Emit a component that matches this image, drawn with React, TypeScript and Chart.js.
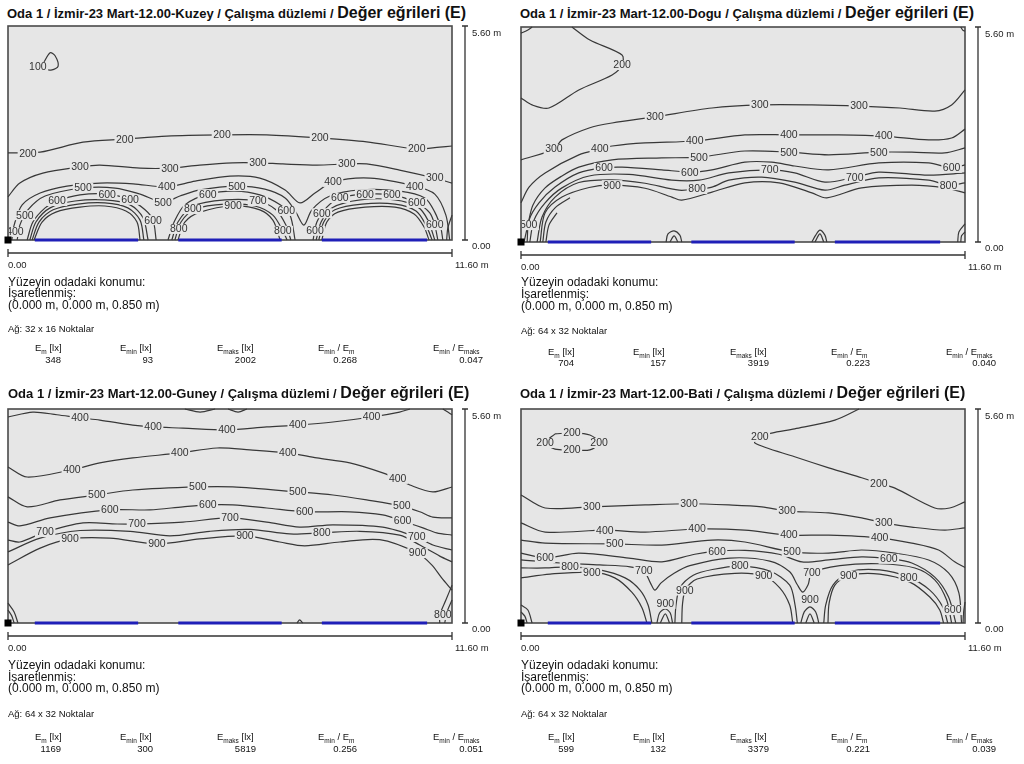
import React, { useEffect, useRef } from "react";
import { Chart, registerables } from "chart.js";

Chart.register(...registerables);

type Pt = [number, number];
type Lbl = [number, number, number];

// ---------------- data ----------------
const roomWidth = 11.6;
const roomDepth = 5.6;
const xTickLabels = ["0.00", "11.60 m"];
const yTickLabels = ["0.00", "5.60 m"];
const windowStarts = [0.7, 4.45, 8.2];
const windowEnds = [3.4, 7.15, 10.95];

const directions = ["Kuzey", "Dogu", "Guney", "Bati"];
const gridSizes = ["32 x 16", "64 x 32", "64 x 32", "64 x 32"];
const emValues = ["348", "704", "1169", "599"];
const eminValues = ["93", "157", "300", "132"];
const emaxValues = ["2002", "3919", "5819", "3379"];
const ratioMinMean = ["0.268", "0.223", "0.256", "0.221"];
const ratioMinMax = ["0.047", "0.040", "0.051", "0.039"];

// ---- Kuzey ----
const kuzey100: Pt[] = [[0.9, 4.58], [1.1, 4.9], [1.23, 4.82], [1.31, 4.55], [1.15, 4.45], [0.95, 4.48], [0.9, 4.58]];
const kuzey200: Pt[] = [[0, 2.28], [0.84, 2.3], [1.96, 2.56], [3.05, 2.64], [4.15, 2.72], [5.59, 2.75], [6.76, 2.75], [8.15, 2.67], [9.37, 2.57], [10.68, 2.38], [11.28, 2.43], [11.6, 2.46]];
const kuzey300: Pt[] = [[0, 1.13], [0.31, 1.49], [0.91, 1.75], [1.88, 1.91], [2.4, 1.96], [3.45, 1.88], [4.23, 1.88], [5.01, 1.96], [5.87, 2.02], [6.53, 2.02], [7.18, 1.99], [8.07, 1.96], [8.85, 1.99], [9.37, 1.99], [10.23, 1.83], [11.15, 1.62], [11.6, 1.49]];
const kuzey400: Pt[] = [[0.1, 0], [0.16, 0.39], [0.37, 0.92], [0.84, 1.23], [1.54, 1.41], [2.4, 1.49], [3.27, 1.47], [4.15, 1.39], [4.89, 1.54], [5.8, 1.67], [6.58, 1.62], [7.24, 1.31], [7.63, 0.97], [8.02, 1.23], [8.49, 1.52], [9.46, 1.62], [10.63, 1.41], [11.15, 1.2], [11.44, 0.65], [11.54, 0]];
const kuzey500: Pt[] = [[0.24, 0], [0.31, 0.39], [0.52, 0.79], [0.97, 1.15], [1.96, 1.36], [2.8, 1.36], [3.45, 1.2], [4.05, 0.99], [4.49, 1.15], [5.02, 1.31], [5.98, 1.41], [6.71, 1.33], [7.24, 1.1], [7.52, 0.73], [7.73, 0.39], [7.94, 0.79], [8.41, 1.15], [9.2, 1.31], [10.24, 1.28], [10.89, 1.1], [11.15, 0.73], [11.31, 0.31], [11.36, 0]];
const kuzeyW1a: Pt[] = [[0.5, 0], [0.65, 0.47], [0.97, 0.84], [1.28, 1.02], [1.88, 1.18], [2.59, 1.2], [3.19, 1.05], [3.58, 0.79], [3.79, 0.52], [3.87, 0]];
const kuzeyW1b: Pt[] = [[0.57, 0], [0.73, 0.47], [1.1, 0.84], [1.75, 1.02], [2.53, 1.05], [3.19, 0.92], [3.53, 0.58], [3.66, 0]];
const kuzeyW1c: Pt[] = [[0.63, 0], [0.81, 0.47], [1.18, 0.79], [1.83, 0.94], [2.53, 0.97], [3.13, 0.84], [3.45, 0.52], [3.55, 0]];
const kuzeyW1d: Pt[] = [[0.68, 0], [0.89, 0.47], [1.25, 0.73], [1.88, 0.86], [2.53, 0.89], [3.08, 0.76], [3.37, 0.47], [3.45, 0]];
const kuzeyW2a: Pt[] = [[4.18, 0], [4.34, 0.47], [4.62, 0.92], [5.22, 1.2], [5.93, 1.28], [6.58, 1.18], [7.11, 0.92], [7.37, 0.65], [7.5, 0]];
const kuzeyW2b: Pt[] = [[4.28, 0], [4.44, 0.47], [4.83, 0.89], [5.67, 1.05], [6.53, 1.02], [7.0, 0.79], [7.26, 0.39], [7.39, 0]];
const kuzeyW2c: Pt[] = [[4.36, 0], [4.52, 0.47], [4.89, 0.81], [5.67, 0.94], [6.45, 0.89], [6.92, 0.65], [7.18, 0.24], [7.29, 0]];
const kuzeyW2d: Pt[] = [[4.44, 0], [4.62, 0.47], [5.02, 0.73], [5.88, 0.89], [6.58, 0.79], [6.92, 0.52], [7.11, 0]];
const kuzeyW3a: Pt[] = [[7.97, 0], [8.07, 0.47], [8.33, 0.86], [8.67, 1.1], [9.33, 1.2], [10.03, 1.18], [10.68, 0.97], [11.02, 0.71], [11.15, 0.39], [11.23, 0]];
const kuzeyW3b: Pt[] = [[8.05, 0], [8.18, 0.47], [8.46, 0.84], [9.2, 1.05], [10.11, 1.05], [10.71, 0.86], [10.97, 0.52], [11.15, 0]];
const kuzeyW3c: Pt[] = [[8.12, 0], [8.25, 0.47], [8.54, 0.79], [9.25, 0.94], [10.11, 0.94], [10.66, 0.76], [10.92, 0.39], [11.08, 0]];
const kuzeyW3d: Pt[] = [[8.2, 0], [8.33, 0.47], [8.62, 0.73], [9.33, 0.86], [10.11, 0.86], [10.61, 0.68], [10.87, 0.34], [11.0, 0]];
const kuzeyWallR: Pt[] = [[11.6, 0.65], [11.49, 0.31], [11.46, 0]];
const kuzeyLabels: Lbl[] = [
  [0.78, 4.53, 100],
  [0.52, 2.27, 200], [3.05, 2.64, 200], [5.59, 2.75, 200], [8.15, 2.67, 200], [10.68, 2.38, 200],
  [1.88, 1.91, 300], [4.23, 1.88, 300], [6.53, 2.02, 300], [8.85, 1.99, 300], [11.15, 1.62, 300],
  [0.18, 0.21, 400], [4.15, 1.39, 400], [8.49, 1.52, 400], [10.63, 1.41, 400],
  [0.44, 0.65, 500], [1.96, 1.36, 500], [4.05, 0.99, 500], [5.98, 1.41, 500],
  [1.28, 1.02, 600], [2.59, 1.2, 600], [3.19, 1.05, 600], [3.79, 0.52, 600], [5.22, 1.2, 600], [7.27, 0.76, 600],
  [8.2, 0.7, 600], [8.02, 0.24, 600], [8.67, 1.1, 600], [9.33, 1.2, 600], [10.03, 1.18, 600], [10.68, 0.97, 600], [11.15, 0.39, 600],
  [6.53, 1.02, 700],
  [4.83, 0.81, 800], [4.46, 0.29, 800], [7.18, 0.24, 800],
  [5.88, 0.89, 900],
];

// ---- Dogu ----
const dogu200: Pt[] = [[1.33, 5.6], [1.8, 5.26], [2.64, 4.87], [2.64, 4.61], [2.38, 4.35], [1.51, 3.96], [0.73, 3.49], [0.29, 3.57], [0, 3.75]];
const dogu200tl: Pt[] = [[0, 5.44], [0.18, 5.52], [0.29, 5.6]];
const dogu200tr: Pt[] = [[11.49, 5.6], [11.54, 5.52], [11.6, 5.49]];
const dogu300: Pt[] = [[0, 2.14], [0.86, 2.42], [1.07, 2.66], [1.78, 2.97], [2.38, 3.1], [3.5, 3.26], [4.99, 3.49], [6.24, 3.57], [7.6, 3.57], [8.83, 3.54], [9.9, 3.49], [10.81, 3.41], [11.25, 3.57], [11.6, 3.96]];
const dogu400: Pt[] = [[0, 1.02], [0.21, 1.43], [0.63, 1.8], [1.51, 2.27], [2.06, 2.42], [2.38, 2.5], [3.24, 2.58], [4.54, 2.63], [5.85, 2.79], [7.0, 2.79], [8.3, 2.79], [9.48, 2.76], [10.65, 2.66], [11.25, 2.71], [11.6, 2.94]];
const dogu500: Pt[] = [[0.08, 0], [0.18, 0.44], [0.31, 0.96], [0.63, 1.41], [1.07, 1.72], [1.51, 1.95], [2.38, 2.14], [3.68, 2.19], [4.65, 2.21], [5.85, 2.37], [7.0, 2.34], [8.04, 2.27], [9.35, 2.34], [10.21, 2.34], [11.07, 2.32], [11.6, 2.45]];
const dogu600: Pt[] = [[0.16, 0], [0.21, 0.57], [0.47, 1.02], [0.89, 1.43], [1.51, 1.8], [2.17, 1.93], [2.64, 1.95], [3.68, 1.88], [4.41, 1.82], [4.99, 1.88], [5.85, 2.08], [6.55, 2.08], [7.15, 1.98], [8.04, 1.88], [9.35, 2.06], [10.65, 2.06], [11.25, 1.93], [11.6, 2.01]];
const dogu700: Pt[] = [[0.23, 0], [0.34, 0.57], [0.63, 1.02], [1.07, 1.41], [1.78, 1.72], [2.82, 1.76], [3.94, 1.61], [4.65, 1.61], [5.43, 1.8], [6.5, 1.88], [7.15, 1.8], [7.94, 1.56], [8.72, 1.69], [9.35, 1.82], [10.65, 1.74], [11.6, 1.8]];
const dogu800: Pt[] = [[0.42, 0], [0.55, 0.65], [0.89, 1.17], [1.51, 1.55], [2.38, 1.62], [3.24, 1.53], [4.13, 1.35], [4.6, 1.38], [4.99, 1.43], [5.43, 1.61], [6.29, 1.69], [7.15, 1.56], [7.94, 1.35], [8.46, 1.48], [9.35, 1.67], [10.65, 1.61], [11.17, 1.48], [11.6, 1.54]];
const dogu900: Pt[] = [[0.5, 0], [0.63, 0.76], [1.07, 1.17], [1.78, 1.42], [2.38, 1.48], [3.24, 1.4], [3.94, 1.17], [4.2, 1.09], [4.99, 1.3], [5.85, 1.54], [6.74, 1.54], [7.6, 1.28], [7.99, 1.15], [8.9, 1.41], [10.21, 1.48], [11.07, 1.41], [11.6, 1.28]];
const doguInnerA: Pt[] = [[0.57, 0], [0.65, 0.52], [0.89, 0.89], [1.28, 1.15]];
const doguInnerB: Pt[] = [[0.65, 0], [0.73, 0.44], [0.94, 0.76]];
const doguBump1: Pt[] = [[3.79, 0], [3.84, 0.21], [4.0, 0.29], [4.15, 0.18], [4.2, 0]];
const doguBump1i: Pt[] = [[3.89, 0], [4.0, 0.16], [4.1, 0]];
const doguBump2: Pt[] = [[7.6, 0], [7.7, 0.18], [7.81, 0.31], [7.94, 0.18], [7.99, 0]];
const doguBump2i: Pt[] = [[7.68, 0], [7.81, 0.21], [7.91, 0]];
const doguCornerA: Pt[] = [[11.41, 0], [11.44, 0.26], [11.6, 0.47]];
const doguCornerB: Pt[] = [[11.49, 0], [11.51, 0.16], [11.6, 0.26]];
const doguLabels: Lbl[] = [
  [2.64, 4.61, 200],
  [0.86, 2.42, 300], [3.5, 3.26, 300], [6.24, 3.57, 300], [8.83, 3.54, 300],
  [2.06, 2.42, 400], [4.54, 2.63, 400], [7.0, 2.79, 400], [9.48, 2.76, 400],
  [0.2, 0.44, 500], [4.65, 2.21, 500], [7.0, 2.34, 500], [9.35, 2.34, 500],
  [2.17, 1.93, 600], [4.41, 1.82, 600], [11.25, 1.93, 600],
  [6.5, 1.88, 700], [8.72, 1.69, 700],
  [4.6, 1.38, 800], [11.17, 1.48, 800],
  [2.38, 1.48, 900],
];

// ---- Guney ----
const guney400a: Pt[] = [[0, 5.39], [0.65, 5.52], [1.28, 5.45], [1.88, 5.37], [2.4, 5.31], [3.26, 5.18], [3.79, 5.13], [4.57, 5.1], [5.72, 5.05], [6.76, 5.13], [7.57, 5.18], [8.49, 5.26], [9.5, 5.39], [10.23, 5.52], [10.5, 5.6]];
const guney400b: Pt[] = [[0, 4.08], [0.5, 3.82], [1.67, 4.01], [2.4, 4.19], [3.26, 4.32], [4.49, 4.45], [5.46, 4.58], [6.32, 4.53], [7.31, 4.45], [8.07, 4.32], [8.93, 4.19], [9.79, 3.93], [10.18, 3.77], [10.5, 3.61], [11.1, 3.43], [11.6, 3.56]];
const guney500: Pt[] = [[0, 3.3], [0.5, 3.04], [1.36, 3.22], [2.32, 3.35], [3.26, 3.48], [4.96, 3.56], [5.87, 3.56], [7.57, 3.43], [8.49, 3.35], [9.37, 3.22], [10.29, 3.06], [10.76, 2.91], [11.1, 2.77], [11.6, 2.75]];
const guney600: Pt[] = [[0, 2.64], [0.31, 2.54], [1.1, 2.75], [2.66, 2.96], [3.71, 2.96], [4.57, 3.04], [5.22, 3.09], [5.87, 3.09], [6.76, 3.01], [7.75, 2.91], [8.93, 2.91], [9.79, 2.83], [10.31, 2.67], [10.84, 2.49], [11.2, 2.36], [11.6, 2.3]];
const guney700: Pt[] = [[0, 2.17], [0.31, 2.12], [0.97, 2.38], [1.96, 2.62], [2.85, 2.59], [3.37, 2.59], [4.57, 2.64], [5.8, 2.75], [6.76, 2.64], [7.62, 2.51], [8.49, 2.57], [9.79, 2.51], [10.68, 2.25], [11.1, 2.04], [11.6, 1.91]];
const guney800: Pt[] = [[0, 1.86], [0.84, 2.22], [1.88, 2.42], [3.19, 2.4], [4.23, 2.28], [5.27, 2.4], [6.32, 2.45], [7.36, 2.33], [8.2, 2.36], [9.19, 2.4], [10.23, 2.3], [10.76, 2.04], [11.28, 1.75], [11.6, 1.6]];
const guney900: Pt[] = [[0, 1.52], [0.84, 1.96], [1.62, 2.2], [2.66, 2.22], [3.89, 2.07], [5.01, 2.2], [6.19, 2.28], [7.1, 2.12], [7.75, 2.02], [8.67, 2.12], [9.71, 2.18], [10.7, 1.83], [11.07, 1.52], [11.33, 1.18], [11.6, 0.86]];
const guneyWallR1: Pt[] = [[11.6, 0.99], [11.44, 0.6], [11.28, 0.21], [11.28, 0]];
const guneyWallR2: Pt[] = [[11.6, 0.6], [11.47, 0.29], [11.41, 0]];
const guneyWallL1: Pt[] = [[0, 0.52], [0.16, 0.29], [0.26, 0]];
const guneyWallL2: Pt[] = [[0, 0.34], [0.1, 0.18], [0.16, 0]];
const guneyTopA: Pt[] = [[4.62, 5.6], [5.02, 5.52], [5.41, 5.6]];
const guneyTopB: Pt[] = [[5.75, 5.6], [6.01, 5.52], [6.24, 5.6]];
const guneyTopR: Pt[] = [[11.36, 5.6], [11.49, 5.52], [11.6, 5.45]];
const guneyFloorBump: Pt[] = [[7.55, 0], [7.62, 0.08], [7.7, 0]];
const guneyLabels: Lbl[] = [
  [1.88, 5.37, 400], [3.79, 5.13, 400], [5.72, 5.05, 400], [7.57, 5.18, 400], [9.5, 5.39, 400],
  [1.67, 4.01, 400], [4.49, 4.45, 400], [7.31, 4.45, 400], [10.18, 3.77, 400],
  [2.32, 3.35, 500], [4.96, 3.56, 500], [7.57, 3.43, 500], [10.29, 3.06, 500],
  [2.66, 2.96, 600], [5.22, 3.09, 600], [7.75, 2.91, 600], [10.31, 2.67, 600],
  [0.97, 2.38, 700], [3.37, 2.59, 700], [5.8, 2.75, 700], [10.68, 2.25, 700],
  [8.2, 2.36, 800], [11.36, 0.21, 800],
  [1.62, 2.2, 900], [3.89, 2.07, 900], [6.19, 2.28, 900], [10.7, 1.83, 900],
];

// ---- Bati ----
const bati200loop: Pt[] = [[0.89, 4.95], [1.33, 4.97], [1.8, 4.92], [2.04, 4.71], [1.8, 4.53], [1.33, 4.53], [0.89, 4.55], [0.63, 4.71], [0.89, 4.95]];
const bati200: Pt[] = [[8.83, 5.6], [8.2, 5.31], [7.15, 5.08], [6.55, 4.97], [6.24, 4.87], [6.11, 4.71], [7.15, 4.35], [8.04, 4.06], [8.9, 3.8], [9.35, 3.66], [9.77, 3.53], [10.81, 3.01], [11.2, 3.01], [11.6, 3.17]];
const bati300: Pt[] = [[0, 3.35], [0.63, 3.01], [1.85, 3.04], [3.24, 3.09], [4.39, 3.12], [5.43, 3.09], [6.29, 3.04], [6.95, 2.93], [8.04, 2.88], [8.9, 2.75], [9.48, 2.62], [10.21, 2.51], [11.07, 2.43], [11.6, 2.49]];
const bati400: Pt[] = [[0, 2.62], [0.63, 2.38], [2.19, 2.43], [3.24, 2.38], [4.6, 2.46], [5.85, 2.43], [7.0, 2.3], [8.04, 2.3], [9.37, 2.23], [10.21, 2.09], [10.91, 1.91], [11.33, 1.6], [11.6, 1.45]];
const bati500: Pt[] = [[0, 2.17], [0.63, 2.09], [2.45, 2.07], [3.68, 2.04], [4.99, 2.17], [5.85, 2.12], [7.08, 1.86], [8.04, 1.83], [8.9, 1.91], [9.77, 1.83], [10.65, 1.65], [11.17, 1.31], [11.44, 0.79], [11.51, 0]];
const bati600: Pt[] = [[0, 1.83], [0.63, 1.7], [1.51, 1.83], [2.82, 1.7], [3.68, 1.6], [4.54, 1.8], [5.12, 1.88], [5.85, 1.9], [6.74, 1.8], [7.34, 1.6], [8.04, 1.65], [8.9, 1.73], [9.61, 1.68], [10.21, 1.57], [10.81, 1.2], [11.17, 0.68], [11.36, 0]];
const bati700: Pt[] = [[0, 1.65], [1.02, 1.57], [2.06, 1.52], [2.85, 1.47], [3.21, 1.36], [3.38, 1.05], [3.5, 0.86], [3.66, 1.05], [4.0, 1.3], [4.41, 1.5], [5.46, 1.7], [6.5, 1.62], [7.02, 1.34], [7.22, 1.0], [7.36, 0.81], [7.5, 1.0], [7.6, 1.31], [8.33, 1.5], [9.37, 1.55], [10.29, 1.44], [10.81, 1.13], [11.12, 0.6], [11.25, 0]];
const bati800w1: Pt[] = [[0, 1.44], [0.63, 1.44], [1.28, 1.47], [2.06, 1.39], [2.72, 1.18], [3.11, 0.86], [3.32, 0.47], [3.42, 0]];
const bati800w2: Pt[] = [[4.02, 0], [4.05, 0.47], [4.15, 0.92], [4.5, 1.25], [5.0, 1.4], [5.72, 1.49], [6.5, 1.36], [7.02, 0.99], [7.16, 0.47], [7.22, 0]];
const bati800w3: Pt[] = [[7.91, 0], [7.96, 0.47], [8.15, 0.99], [8.59, 1.34], [9.37, 1.39], [10.13, 1.2], [10.68, 0.86], [11.02, 0.42], [11.15, 0]];
const bati900w1: Pt[] = [[0, 1.18], [0.76, 1.28], [1.85, 1.33], [2.45, 1.18], [2.9, 0.8], [3.16, 0.4], [3.29, 0]];
const bati900w2: Pt[] = [[4.2, 0], [4.22, 0.5], [4.3, 0.88], [4.6, 1.15], [5.59, 1.3], [6.34, 1.23], [6.76, 0.92], [7.02, 0.47], [7.1, 0]];
const bati900w3: Pt[] = [[8.02, 0], [8.05, 0.52], [8.2, 0.99], [8.56, 1.24], [9.37, 1.28], [10.16, 1.07], [10.68, 0.68], [10.94, 0.34], [11.04, 0]];
const batiTent1: Pt[] = [[3.55, 0], [3.62, 0.26], [3.77, 0.37], [3.9, 0.26], [3.96, 0]];
const batiTent1i: Pt[] = [[3.64, 0], [3.77, 0.24], [3.88, 0]];
const batiTent2: Pt[] = [[7.31, 0], [7.4, 0.29], [7.55, 0.42], [7.7, 0.29], [7.78, 0]];
const batiTent2i: Pt[] = [[7.44, 0], [7.55, 0.24], [7.66, 0]];
const batiCornerL1: Pt[] = [[0, 0.47], [0.18, 0.34], [0.29, 0]];
const batiCornerL2: Pt[] = [[0, 0.29], [0.1, 0.18], [0.16, 0]];
const batiCornerR: Pt[] = [[11.6, 0.55], [11.56, 0.25], [11.55, 0]];
const batiLabels: Lbl[] = [
  [1.33, 4.97, 200], [0.63, 4.71, 200], [1.33, 4.53, 200], [2.04, 4.71, 200], [6.24, 4.87, 200], [9.35, 3.66, 200],
  [1.85, 3.04, 300], [4.39, 3.12, 300], [6.95, 2.93, 300], [9.48, 2.62, 300],
  [2.19, 2.43, 400], [4.6, 2.46, 400], [7.0, 2.3, 400], [9.37, 2.23, 400],
  [2.45, 2.07, 500], [7.08, 1.86, 500],
  [0.63, 1.7, 600], [5.12, 1.88, 600], [9.61, 1.68, 600], [11.28, 0.34, 600],
  [3.21, 1.36, 700], [7.6, 1.31, 700],
  [1.28, 1.47, 800], [5.72, 1.49, 800], [10.13, 1.2, 800],
  [1.85, 1.33, 900], [6.34, 1.23, 900], [8.56, 1.24, 900], [3.77, 0.5, 900], [7.55, 0.6, 900], [4.28, 0.85, 900],
];

const panelContours: Pt[][][] = [
  [kuzey100, kuzey200, kuzey300, kuzey400, kuzey500, kuzeyW1a, kuzeyW1b, kuzeyW1c, kuzeyW1d, kuzeyW2a, kuzeyW2b, kuzeyW2c, kuzeyW2d, kuzeyW3a, kuzeyW3b, kuzeyW3c, kuzeyW3d, kuzeyWallR],
  [dogu200, dogu200tl, dogu200tr, dogu300, dogu400, dogu500, dogu600, dogu700, dogu800, dogu900, doguInnerA, doguInnerB, doguBump1, doguBump1i, doguBump2, doguBump2i, doguCornerA, doguCornerB],
  [guney400a, guney400b, guney500, guney600, guney700, guney800, guney900, guneyWallR1, guneyWallR2, guneyWallL1, guneyWallL2, guneyTopA, guneyTopB, guneyTopR, guneyFloorBump],
  [bati200loop, bati200, bati300, bati400, bati500, bati600, bati700, bati800w1, bati800w2, bati800w3, bati900w1, bati900w2, bati900w3, batiTent1, batiTent1i, batiTent2, batiTent2i, batiCornerL1, batiCornerL2, batiCornerR],
];
const panelLabels: Lbl[][] = [kuzeyLabels, doguLabels, guneyLabels, batiLabels];

// ---------------- layout (page pixels) ----------------
const layouts = [
  { plotL: 8, plotT: 26, plotH: 214, titleX: 7, titleBase: 18.5, lines: [281.7, 293.5, 305.5], ag: 328.3, hdr: 347.8, val: 359.3 },
  { plotL: 521, plotT: 27, plotH: 215, titleX: 520, titleBase: 18.5, lines: [282.5, 294.5, 306.5], ag: 330.5, hdr: 351.5, val: 363 },
  { plotL: 8, plotT: 409, plotH: 214, titleX: 8, titleBase: 398.3, lines: [665, 676.8, 688.5], ag: 714, hdr: 736.7, val: 748.3 },
  { plotL: 521, plotT: 409, plotH: 214, titleX: 520, titleBase: 398.3, lines: [665, 676.8, 688.5], ag: 714, hdr: 736.7, val: 748.3 },
];
const colLeft = [27, 112, 209, 310, 425];
const colRight = [53, 145, 248, 349, 475];

const FONT = "'Liberation Sans', Arial, Helvetica, sans-serif";
const PLOT_BG = "#e6e6e6";
const LINE_COLOR = "#383838";
const WINDOW_COLOR = "#1f1fb8";
const CANVAS_W = 510;
const CANVAS_H = 262;
const PLOT_W = 444;

function makePlanPlugin(labels: Lbl[]) {
  return {
    id: "planPlugin",
    beforeDatasetsDraw(chart: any) {
      const { ctx, chartArea: a } = chart;
      ctx.save();
      ctx.fillStyle = PLOT_BG;
      ctx.fillRect(a.left, a.top, a.right - a.left, a.bottom - a.top);
      ctx.strokeStyle = "#4a4a4a";
      ctx.lineWidth = 1.6;
      ctx.strokeRect(a.left, a.top, a.right - a.left, a.bottom - a.top);
      ctx.restore();
    },
    afterDatasetsDraw(chart: any) {
      const { ctx, chartArea: a, scales } = chart;
      const xs = scales.x;
      const ys = scales.y;
      // contour labels
      ctx.save();
      ctx.beginPath();
      ctx.rect(a.left + 1, a.top + 1, a.right - a.left - 2, a.bottom - a.top - 2);
      ctx.clip();
      ctx.font = `10.5px ${FONT}`;
      ctx.textAlign = "center";
      ctx.textBaseline = "middle";
      for (const [x, y, lvl] of labels) {
        const t = String(lvl);
        const px = xs.getPixelForValue(x);
        const py = ys.getPixelForValue(y);
        const w = ctx.measureText(t).width;
        ctx.fillStyle = PLOT_BG;
        ctx.fillRect(px - w / 2 - 1.5, py - 5, w + 3, 10);
        ctx.fillStyle = "#333";
        ctx.fillText(t, px, py + 0.5);
      }
      ctx.restore();

      // origin marker
      const ox = xs.getPixelForValue(0);
      const oy = ys.getPixelForValue(0);
      ctx.save();
      ctx.fillStyle = "#000";
      ctx.fillRect(ox - 3.5, oy - 3.5, 7, 7);

      // dimension lines
      const xr = xs.getPixelForValue(roomWidth);
      const yt = ys.getPixelForValue(roomDepth);
      ctx.strokeStyle = "#333";
      ctx.lineWidth = 1.3;
      const dx = xr + 13;
      ctx.beginPath();
      ctx.moveTo(dx, yt);
      ctx.lineTo(dx, oy);
      ctx.moveTo(dx - 3, yt);
      ctx.lineTo(dx + 3, yt);
      ctx.moveTo(dx - 3, oy);
      ctx.lineTo(dx + 3, oy);
      const dy = oy + 13;
      ctx.moveTo(ox, dy);
      ctx.lineTo(xr, dy);
      ctx.moveTo(ox, dy - 4);
      ctx.lineTo(ox, dy + 4);
      ctx.moveTo(xr, dy - 4);
      ctx.lineTo(xr, dy + 4);
      ctx.stroke();

      ctx.fillStyle = "#222";
      ctx.font = `9.5px ${FONT}`;
      ctx.textAlign = "left";
      ctx.textBaseline = "middle";
      ctx.fillText(yTickLabels[1], dx + 7, yt + 7);
      ctx.fillText(yTickLabels[0], dx + 7, oy + 6);
      ctx.fillText(xTickLabels[0], ox, oy + 25);
      ctx.fillText(xTickLabels[1], xr + 3, oy + 25);
      ctx.restore();
    },
  };
}

function PlanChart({ idx }: { idx: number }) {
  const ref = useRef<HTMLCanvasElement | null>(null);
  const L = layouts[idx];
  useEffect(() => {
    const canvas = ref.current;
    if (!canvas) return;
    const windowSets = windowStarts.map((s, i) => ({
      data: [
        { x: s, y: 0 },
        { x: windowEnds[i], y: 0 },
      ],
      showLine: true,
      borderColor: WINDOW_COLOR,
      borderWidth: 3,
      pointRadius: 0,
      clip: 4,
    }));
    const contourSets = panelContours[idx].map((c) => ({
      data: c.map(([x, y]) => ({ x, y })),
      showLine: true,
      borderColor: LINE_COLOR,
      borderWidth: 1.2,
      pointRadius: 0,
      tension: 0.3,
      fill: false,
      clip: 1,
    }));
    const chart = new Chart(canvas, {
      type: "scatter",
      data: { datasets: [...windowSets, ...contourSets] as any },
      options: {
        animation: false,
        responsive: false,
        devicePixelRatio: 1,
        events: [],
        layout: {
          padding: {
            left: 8,
            top: 6,
            right: CANVAS_W - 8 - PLOT_W,
            bottom: CANVAS_H - 6 - L.plotH,
          },
        },
        scales: {
          x: { type: "linear", min: 0, max: roomWidth, display: false },
          y: { type: "linear", min: 0, max: roomDepth, display: false },
        },
        plugins: {
          legend: { display: false },
          tooltip: { enabled: false },
          title: { display: false },
        },
      },
      plugins: [makePlanPlugin(panelLabels[idx])],
    });
    return () => chart.destroy();
  }, [idx]);
  return (
    <canvas
      ref={ref}
      width={CANVAS_W}
      height={CANVAS_H}
      style={{ position: "absolute", left: L.plotL - 8, top: L.plotT - 6, width: CANVAS_W, height: CANVAS_H }}
    />
  );
}

function Txt(props: { x: number; cy: number; size: number; children: any; w?: number; right?: boolean }) {
  const { x, cy, size, children, w, right } = props;
  return (
    <div
      style={{
        position: "absolute",
        left: x,
        top: cy - 0.6 * size,
        width: w,
        fontSize: size,
        lineHeight: `${1.2 * size}px`,
        fontFamily: FONT,
        color: "#111",
        whiteSpace: "nowrap",
        textAlign: right ? "right" : "left",
      }}
    >
      {children}
    </div>
  );
}

const Sub = ({ t }: { t: string }) => (
  <span style={{ fontSize: 6.5, verticalAlign: -2.5 }}>{t}</span>
);

const headers = [
  <>E<Sub t="m" /> [lx]</>,
  <>E<Sub t="min" /> [lx]</>,
  <>E<Sub t="maks" /> [lx]</>,
  <>E<Sub t="min" /> / E<Sub t="m" /></>,
  <>E<Sub t="min" /> / E<Sub t="maks" /></>,
];

function Panel({ idx }: { idx: number }) {
  const L = layouts[idx];
  const values = [emValues[idx], eminValues[idx], emaxValues[idx], ratioMinMean[idx], ratioMinMax[idx]];
  return (
    <>
      <div
        style={{
          position: "absolute",
          left: L.titleX,
          top: L.titleBase - 0.9465 * 16,
          fontSize: 16,
          lineHeight: "19.2px",
          fontFamily: FONT,
          fontWeight: "bold",
          color: "#111",
          whiteSpace: "nowrap",
        }}
      >
        <span style={{ fontSize: 13 }}>{`Oda 1 / İzmir-23 Mart-12.00-${directions[idx]} / Çalışma düzlemi / `}</span>
        <span>Değer eğrileri (E)</span>
      </div>
      <PlanChart idx={idx} />
      <Txt x={L.plotL} cy={L.lines[0]} size={12}>Yüzeyin odadaki konumu:</Txt>
      <Txt x={L.plotL} cy={L.lines[1]} size={12}>İşaretlenmiş:</Txt>
      <Txt x={L.plotL} cy={L.lines[2]} size={12}>(0.000 m, 0.000 m, 0.850 m)</Txt>
      <Txt x={L.plotL} cy={L.ag} size={9.5}>{`Ağ: ${gridSizes[idx]} Noktalar`}</Txt>
      {headers.map((h, i) => (
        <Txt key={"h" + i} x={L.plotL + colLeft[i]} cy={L.hdr} size={9.5}>{h}</Txt>
      ))}
      {values.map((v, i) => (
        <Txt key={"v" + i} x={L.plotL + colLeft[i] - 20} w={colRight[i] - colLeft[i] + 20} cy={L.val} size={9.5} right>
          {v}
        </Txt>
      ))}
    </>
  );
}

export default function App() {
  return (
    <div
      style={{
        position: "absolute",
        left: 0,
        top: 0,
        width: 1024,
        height: 764,
        overflow: "hidden",
        background: "#fff",
      }}
    >
      {[0, 1, 2, 3].map((i) => (
        <Panel key={i} idx={i} />
      ))}
    </div>
  );
}
